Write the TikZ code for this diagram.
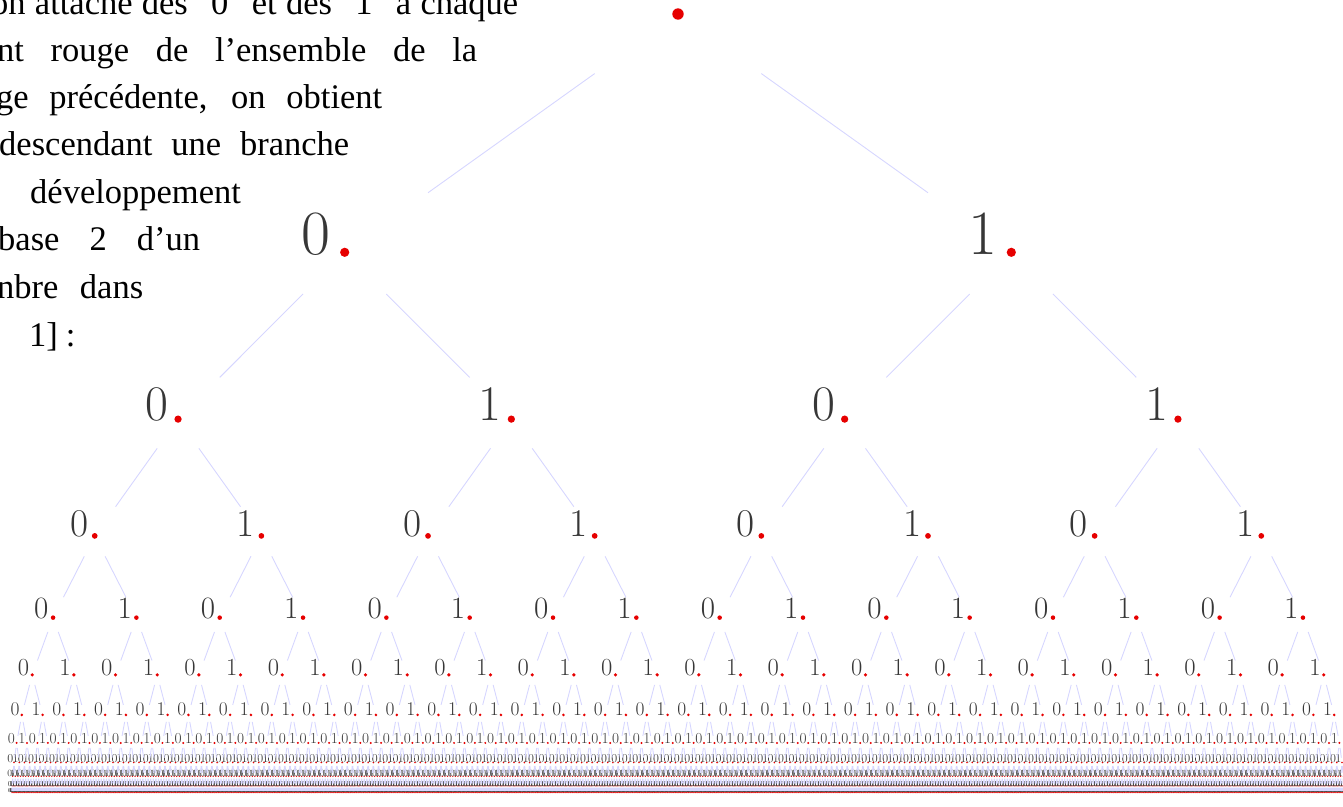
\documentclass[tikz,border=0pt]{standalone}
\usepackage{fontspec}
\newfontfamily\proseserif{Liberation Serif}
\usetikzlibrary{calc}
\definecolor{branch}{RGB}{214,214,255}
\definecolor{dotred}{RGB}{230,0,0}
\definecolor{digitgray}{RGB}{55,55,55}
\tikzset{
  bit/.style={inner sep=0pt, anchor=base east, text=digitgray},
  knot/.style={circle, fill=dotred, inner sep=0pt},
  branchline/.style={draw=branch, line width=0.9pt},
  prose/.style={inner sep=0pt, anchor=base west, text=black,
    font=\proseserif\fontsize{34.5}{42}\selectfont},
}
\begin{document}
\begin{tikzpicture}[x=1pt,y=-1pt]
\useasboundingbox (0,0) rectangle (1343,806);
\clip (0,0) rectangle (1343,806);

% explanatory paragraph, wrapped along the left flank of the tree
\node[prose] (t1) at (-9,14.2)   {\makebox[527pt][s]{on attache des "0" et des "1" à chaque}};
\node[prose] (t2) at (-3,61.7)   {\makebox[480pt][s]{nt rouge de l’ensemble de la}};
\node[prose] (t3) at (-4,108.3)  {\makebox[386pt][s]{ge précédente, on obtient}};
\node[prose] (t4) at (-1,155.7)  {\makebox[350pt][s]{descendant une branche}};
\node[prose] (t5) at (30,203.3)  {développement};
\node[prose] (t6) at (-2,250.7)  {\makebox[202pt][s]{base 2 d’un}};
\node[prose] (t7) at (-3,298.3)  {\makebox[146pt][s]{nbre dans}};
\node[prose] (t8) at (29,346.7)  {1]\hspace{8pt}:};

% root of the binary tree
\node[knot, minimum size=11.4pt] (p-0-0) at (678,14) {};

% upper levels: one red point and one digit per node
% (horizontal spacing halves, vertical step shrinks by 0.7, type by 0.79)
\foreach \k in {1,...,7}{
  \pgfmathsetmacro\yk{14+794.33*(1-0.7^\k)}
  \pgfmathsetmacro\fk{0.79^(\k-1)}
  \pgfmathsetmacro\fs{63*\fk}
  \pgfmathsetmacro\rk{9.2*\fk}
  \pgfmathsetmacro\gk{14*0.68^(\k-1)}
  \pgfmathsetmacro\bk{1.7*\fk}
  \pgfmathtruncatemacro\last{2^\k-1}
  \foreach \i in {0,...,\last}{
    \pgfmathsetmacro\xi{(2*\i+1)/2^\k*666.6+11.4}
    \pgfmathtruncatemacro\b{mod(\i,2)}
    \node[knot, minimum size=\rk pt] (p-\k-\i) at (\xi,\yk) {};
    \node[bit, font=\fontsize{\fs}{\fs}\selectfont] (b-\k-\i)
      at ($(p-\k-\i.center)+(-\gk,\bk)$) {\b};
  }
}

% lower levels: the points merge into dotted rows, the digits into one row each
\foreach \k in {8,...,11}{
  \pgfmathsetmacro\yk{14+794.33*(1-0.7^\k)}
  \pgfmathsetmacro\fk{0.79^(\k-1)}
  \pgfmathsetmacro\fs{63*\fk}
  \pgfmathsetmacro\rk{9.2*\fk}
  \pgfmathsetmacro\gk{14*0.68^(\k-1)}
  \pgfmathsetmacro\bk{1.7*\fk}
  \pgfmathsetmacro\sk{1333.2/2^\k}
  \pgfmathtruncatemacro\last{2^\k-1}
  \pgfmathtruncatemacro\half{2^(\k-1)}
  \foreach \i in {0,...,\last}{
    \pgfmathsetmacro\xi{(2*\i+1)/2^\k*666.6+11.4}
    \coordinate (p-\k-\i) at (\xi,\yk);
  }
  \draw[dotred, line width=\rk pt, line cap=round, dash pattern=on 0pt off \sk pt]
    (p-\k-0) -- ($(p-\k-\last)+(0.05,0)$);
  \node[bit, anchor=base west, font=\fontsize{\fs}{\fs}\selectfont] (row-\k)
    at ($(p-\k-0)+(-\gk-\sk,\bk)$)
    {\foreach \n in {1,...,\half}{\hbox to \sk pt{\hss0}\hbox to \sk pt{\hss1}}};
}

% branches: the middle half of each segment between parent and child points
\foreach \k in {1,...,11}{
  \pgfmathtruncatemacro\last{2^\k-1}
  \pgfmathtruncatemacro\km{\k-1}
  \draw[branchline]
    \foreach \i [evaluate=\i as \j using {int(\i/2)}] in {0,...,\last}{
      ($(p-\km-\j.center)!0.25!(p-\k-\i.center)$)
      -- ($(p-\km-\j.center)!0.75!(p-\k-\i.center)$)
    };
}
\end{tikzpicture}
\end{document}
